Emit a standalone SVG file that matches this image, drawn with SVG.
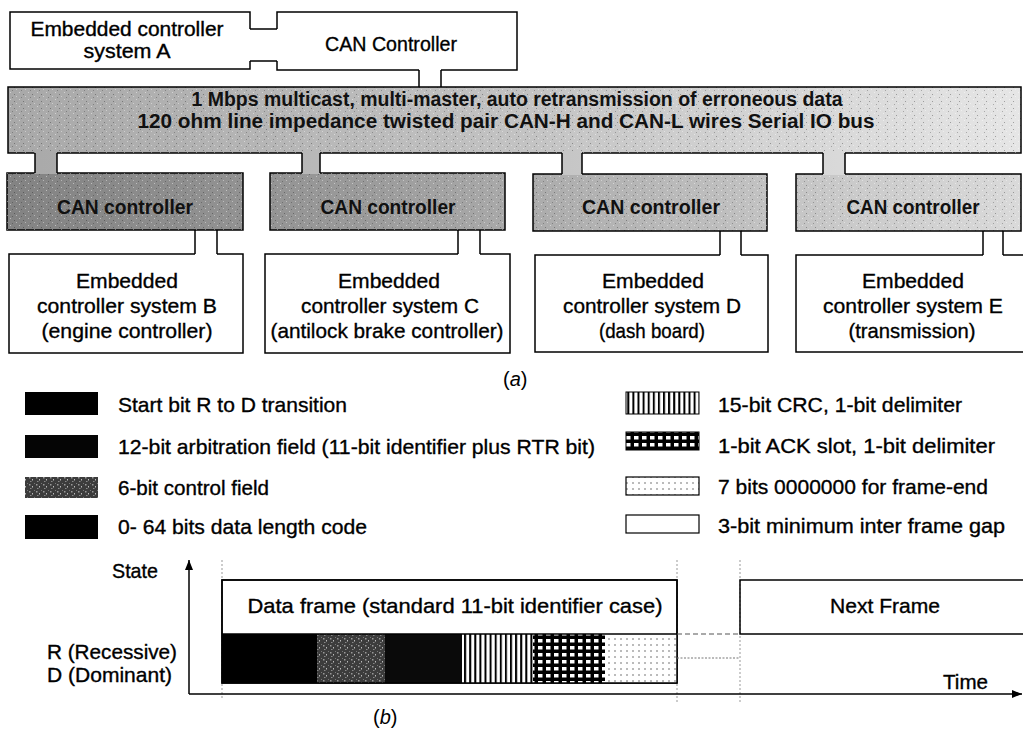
<svg xmlns="http://www.w3.org/2000/svg" width="1023" height="737" viewBox="0 0 1023 737">
<style>
.t{font-family:"Liberation Sans",Arial,Helvetica,sans-serif;font-size:21px;fill:#000;stroke:#000;stroke-width:0.35}
.ts{font-size:19.5px}
.tb{font-family:"Liberation Sans",Arial,Helvetica,sans-serif;font-size:19.5px;font-weight:bold;fill:#111}
.m{text-anchor:middle}
.box{fill:#fff;stroke:#000;stroke-width:1.5}
.ln{stroke:#000;stroke-width:1.5;fill:none}
.dv{stroke:#999;stroke-width:1;stroke-dasharray:2 2;fill:none}
</style>
<defs>
<linearGradient id="busG" gradientUnits="userSpaceOnUse" x1="0" y1="0" x2="1023" y2="0">
<stop offset="0" stop-color="#a8a8a8"/><stop offset="0.5" stop-color="#c2c2c2"/><stop offset="1" stop-color="#e6e6e6"/>
</linearGradient>
<linearGradient id="canG" gradientUnits="userSpaceOnUse" x1="0" y1="0" x2="1023" y2="0">
<stop offset="0" stop-color="#828282"/><stop offset="0.35" stop-color="#9a9a9a"/><stop offset="0.65" stop-color="#b9b9b9"/><stop offset="1" stop-color="#dadada"/>
</linearGradient>
<pattern id="speck" width="9" height="7" patternUnits="userSpaceOnUse">
<rect x="1" y="1" width="1" height="1" fill="#fff" opacity="0.45"/><rect x="5" y="3" width="1" height="1" fill="#000" opacity="0.3"/><rect x="7" y="5" width="1" height="1" fill="#fff" opacity="0.4"/><rect x="3" y="6" width="1" height="1" fill="#000" opacity="0.25"/>
</pattern>
<pattern id="vstripe" width="5.1" height="10" patternUnits="userSpaceOnUse">
<rect width="5.1" height="10" fill="#fff"/><rect width="2" height="10" fill="#000"/>
</pattern>
<pattern id="grid" width="8" height="7" patternUnits="userSpaceOnUse">
<rect width="8" height="7" fill="#000"/><rect x="2" y="2" width="4.5" height="3.5" fill="#fff"/>
</pattern>
<pattern id="dots" width="6" height="6" patternUnits="userSpaceOnUse">
<rect width="6" height="6" fill="#fff"/><circle cx="3" cy="3" r="0.7" fill="#444"/>
</pattern>
<pattern id="dark" width="7" height="7" patternUnits="userSpaceOnUse">
<rect width="7" height="7" fill="#3c3c3c"/><rect x="1" y="1" width="1.5" height="1.5" fill="#999"/><rect x="4" y="3" width="1" height="1.5" fill="#bbb"/><rect x="2" y="5" width="1.5" height="1" fill="#888"/><rect x="6" y="0" width="1" height="1" fill="#777"/>
</pattern>
<marker id="arr" viewBox="0 0 10 10" refX="10" refY="5" markerWidth="10" markerHeight="10" markerUnits="userSpaceOnUse" orient="auto">
<path d="M0,1 L10,5 L0,9 Z" fill="#000"/>
</marker>
</defs>
<rect width="1023" height="737" fill="#fff"/>

<!-- Part (a) nodes -->
<g id="sysA">
<rect class="box" x="10" y="12" width="240" height="57"/>
<text class="t ts m" x="127" y="35.5" textLength="193" lengthAdjust="spacingAndGlyphs">Embedded controller</text>
<text class="t ts m" x="127" y="57.5" textLength="87" lengthAdjust="spacingAndGlyphs">system A</text>
</g>
<g id="canA">
<rect class="box" x="277" y="12" width="240" height="58"/>
<text class="t m" x="391" y="51" textLength="132" lengthAdjust="spacingAndGlyphs">CAN Controller</text>
</g>
<g id="bus">
<rect x="8" y="87" width="1013" height="66" fill="url(#busG)" stroke="#000" stroke-width="1.5"/>
<rect x="8" y="87" width="1013" height="66" fill="url(#speck)"/>
<text class="tb m" x="517" y="106" textLength="651" lengthAdjust="spacingAndGlyphs">1 Mbps multicast, multi-master, auto retransmission of erroneous data</text>
<text class="tb m" x="506" y="128" textLength="737" lengthAdjust="spacingAndGlyphs">120 ohm line impedance twisted pair CAN-H and CAN-L wires Serial IO bus</text>
</g>
<g id="canB">
<rect x="7" y="173" width="236" height="57" fill="url(#canG)" stroke="#000" stroke-width="1.5"/>
<rect x="7" y="173" width="236" height="57" fill="url(#speck)"/>
<text class="tb m" x="125" y="214" textLength="136" lengthAdjust="spacingAndGlyphs">CAN controller</text>
</g>
<g id="canC">
<rect x="270" y="173" width="235" height="57" fill="url(#canG)" stroke="#000" stroke-width="1.5"/>
<rect x="270" y="173" width="235" height="57" fill="url(#speck)"/>
<text class="tb m" x="388" y="214" textLength="135" lengthAdjust="spacingAndGlyphs">CAN controller</text>
</g>
<g id="canD">
<rect x="533" y="174" width="234" height="57" fill="url(#canG)" stroke="#000" stroke-width="1.5"/>
<rect x="533" y="174" width="234" height="57" fill="url(#speck)"/>
<text class="tb m" x="651" y="214" textLength="138" lengthAdjust="spacingAndGlyphs">CAN controller</text>
</g>
<g id="canE">
<rect x="796" y="174" width="225" height="57" fill="url(#canG)" stroke="#000" stroke-width="1.5"/>
<rect x="796" y="174" width="225" height="57" fill="url(#speck)"/>
<text class="tb m" x="913" y="214" textLength="133" lengthAdjust="spacingAndGlyphs">CAN controller</text>
</g>
<g id="sysB">
<rect class="box" x="9" y="254" width="234" height="99"/>
<text class="t m" x="127" y="288" textLength="102" lengthAdjust="spacingAndGlyphs">Embedded</text>
<text class="t m" x="127" y="313" textLength="180" lengthAdjust="spacingAndGlyphs">controller system B</text>
<text class="t m" x="127" y="338" textLength="171" lengthAdjust="spacingAndGlyphs">(engine controller)</text>
</g>
<g id="sysC">
<rect class="box" x="265" y="254" width="245" height="99"/>
<text class="t m" x="389" y="288" textLength="102" lengthAdjust="spacingAndGlyphs">Embedded</text>
<text class="t m" x="390" y="313" textLength="178" lengthAdjust="spacingAndGlyphs">controller system C</text>
<text class="t m" x="387" y="338" textLength="233" lengthAdjust="spacingAndGlyphs">(antilock brake controller)</text>
</g>
<g id="sysD">
<rect class="box" x="535" y="255" width="233" height="97"/>
<text class="t m" x="653" y="288" textLength="102" lengthAdjust="spacingAndGlyphs">Embedded</text>
<text class="t m" x="652" y="313" textLength="178" lengthAdjust="spacingAndGlyphs">controller system D</text>
<text class="t m" x="652" y="338" textLength="106" lengthAdjust="spacingAndGlyphs">(dash board)</text>
</g>
<g id="sysE">
<rect class="box" x="796" y="255" width="240" height="97"/>
<text class="t m" x="913" y="288" textLength="102" lengthAdjust="spacingAndGlyphs">Embedded</text>
<text class="t m" x="913" y="313" textLength="180" lengthAdjust="spacingAndGlyphs">controller system E</text>
<text class="t m" x="912" y="338" textLength="127" lengthAdjust="spacingAndGlyphs">(transmission)</text>
</g>

<!-- connectors (necks) -->
<g id="connectors">
<rect x="249" y="29" width="29" height="32" fill="#fff"/>
<path class="ln" d="M250,29 H277 M250,61 H277"/>
<rect x="419" y="69" width="22" height="17" fill="#fff"/>
<path class="ln" d="M419,70 V87 M441,70 V87"/>
<rect x="35" y="152" width="22" height="22" fill="url(#busG)"/>
<rect x="302" y="152" width="18" height="22" fill="url(#busG)"/>
<rect x="562" y="152" width="20" height="23" fill="url(#busG)"/>
<rect x="823" y="152" width="22" height="23" fill="url(#busG)"/>
<path class="ln" d="M35,153 V173 M57,153 V173 M302,153 V173 M320,153 V173 M562,153 V174 M582,153 V174 M823,153 V174 M845,153 V174"/>
<rect x="195" y="231" width="22" height="24" fill="#fff"/>
<rect x="458" y="231" width="22" height="24" fill="#fff"/>
<rect x="720" y="232" width="21" height="24" fill="#fff"/>
<rect x="983" y="232" width="20" height="24" fill="#fff"/>
<path class="ln" d="M195,230 V254 M217,230 V254 M458,230 V254 M480,230 V254 M720,231 V255 M741,231 V255 M983,231 V255 M1003,231 V255"/>
</g>

<text x="503" y="386" style="font-family:'Liberation Sans',Arial,sans-serif;font-size:20px">(<tspan font-style="italic">a</tspan>)</text>

<!-- Legend -->
<g id="legend">
<rect x="25" y="392" width="73" height="23" fill="#000"/>
<text class="t" x="118" y="412" textLength="229" lengthAdjust="spacingAndGlyphs">Start bit R to D transition</text>
<rect x="25" y="435" width="73" height="23" fill="#050505"/>
<text class="t" x="118" y="454" textLength="477" lengthAdjust="spacingAndGlyphs">12-bit arbitration field (11-bit identifier plus RTR bit)</text>
<rect x="25" y="477" width="73" height="21" fill="url(#dark)"/>
<text class="t" x="118" y="495" textLength="151" lengthAdjust="spacingAndGlyphs">6-bit control field</text>
<rect x="25" y="515" width="73" height="24" fill="#000"/>
<text class="t" x="118" y="534" textLength="249" lengthAdjust="spacingAndGlyphs">0- 64 bits data length code</text>

<rect x="626" y="392" width="73" height="22" fill="url(#vstripe)" stroke="#000" stroke-width="1"/>
<text class="t" x="718" y="412" textLength="244" lengthAdjust="spacingAndGlyphs">15-bit CRC, 1-bit delimiter</text>
<rect x="626" y="432" width="73" height="18" fill="url(#grid)" stroke="#000" stroke-width="1"/>
<text class="t" x="718" y="453" textLength="277" lengthAdjust="spacingAndGlyphs">1-bit ACK slot, 1-bit delimiter</text>
<rect x="626" y="477" width="73" height="18" fill="url(#dots)" stroke="#000" stroke-width="1.2"/>
<text class="t" x="718" y="494" textLength="270" lengthAdjust="spacingAndGlyphs">7 bits 0000000 for frame-end</text>
<rect x="626" y="515" width="73" height="18" fill="#fff" stroke="#000" stroke-width="1.2"/>
<text class="t" x="718" y="533" textLength="287" lengthAdjust="spacingAndGlyphs">3-bit minimum inter frame gap</text>
</g>

<!-- Timing diagram (b) -->
<g id="timing">
<path class="dv" d="M222,560 V700 M677,560 V702 M740,560 V702"/>
<g id="dataFrame">
<rect x="222" y="580" width="455" height="103" fill="#fff" stroke="#000" stroke-width="1.5"/>
<rect x="222" y="634" width="95" height="49" fill="#000"/>
<rect x="317" y="634" width="68" height="49" fill="url(#dark)"/>
<rect x="385" y="634" width="77" height="49" fill="#0a0a0a"/>
<rect x="462" y="634" width="71" height="49" fill="url(#vstripe)"/>
<rect x="533" y="634" width="72" height="49" fill="url(#grid)"/>
<rect x="605" y="634" width="72" height="49" fill="url(#dots)"/>
<rect x="222" y="580" width="455" height="103" fill="none" stroke="#000" stroke-width="1.5"/>
<line class="ln" x1="222" y1="634" x2="677" y2="634"/>
<text class="t m" x="455" y="613" textLength="415" lengthAdjust="spacingAndGlyphs">Data frame (standard 11-bit identifier case)</text>
</g>
<path d="M677,634 H740" stroke="#555" stroke-width="1.2" stroke-dasharray="5 3" fill="none"/>
<path d="M677,658 H740" stroke="#777" stroke-width="1" stroke-dasharray="2 1.5" fill="none"/>
<g id="nextFrame">
<path class="ln" d="M1023,580 H740 V634 H1023"/>
<text class="t m" x="885" y="613" textLength="110" lengthAdjust="spacingAndGlyphs">Next Frame</text>
</g>
<line class="ln" x1="189" y1="694" x2="189" y2="560" marker-end="url(#arr)"/>
<line class="ln" x1="189" y1="694" x2="1022" y2="694" marker-end="url(#arr)"/>
<text class="t" x="112" y="578" textLength="46" lengthAdjust="spacingAndGlyphs">State</text>
<text class="t" x="47" y="659" textLength="130" lengthAdjust="spacingAndGlyphs">R (Recessive)</text>
<text class="t" x="47" y="682" textLength="125" lengthAdjust="spacingAndGlyphs">D (Dominant)</text>
<text class="t" x="943" y="689" textLength="45" lengthAdjust="spacingAndGlyphs">Time</text>
</g>
<text x="373" y="724" style="font-family:'Liberation Sans',Arial,sans-serif;font-size:20px">(<tspan font-style="italic">b</tspan>)</text>
</svg>
